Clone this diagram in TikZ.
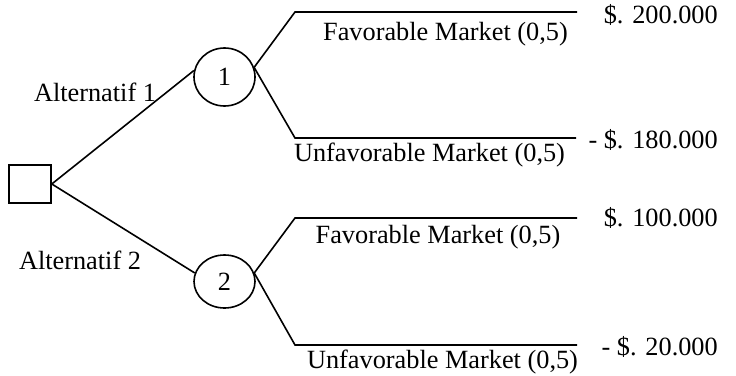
\documentclass[tikz,border=0pt]{standalone}
\usepackage{fontspec}
\setmainfont{Liberation Serif}
\usetikzlibrary{shapes.geometric}
\begin{document}
\begin{tikzpicture}[x=1pt,y=-1pt,
  every node/.style={font=\fontsize{26.3}{30}\selectfont},
  link/.style={line width=1.6pt},
  decbox/.style={draw, line width=1.6pt, minimum width=42pt, minimum height=38pt, inner sep=0pt},
  chance/.style={draw, ellipse, line width=1.6pt, minimum width=61pt, minimum height=58pt, inner sep=0pt},
  lbl/.style={inner sep=0pt}]
\useasboundingbox (0,0) rectangle (736,375);

% decision and chance nodes
\node[decbox] (dec) at (30,184) {};
\node[chance] (c1) at (224.5,77) {1};
\node[chance, minimum height=53pt] (c2) at (224.5,281.5) {2};

% branch corners and ends
\coordinate (c1f)  at (295,12);
\coordinate (c1fe) at (577,12);
\coordinate (c1u)  at (295,138);
\coordinate (c1ue) at (576,138);
\coordinate (c2f)  at (295,218);
\coordinate (c2fe) at (577,218);
\coordinate (c2u)  at (295,345);
\coordinate (c2ue) at (577,345);

% connectors
\draw[link] (dec.east) -- (c1.168);
\draw[link] (dec.east) -- (c2.164);
\draw[link] (c1.18) -- (c1f) -- (c1fe);
\draw[link] (c1.18) -- (c1u) -- (c1ue);
\draw[link] (c2.16) -- (c2f) -- (c2fe);
\draw[link] (c2.16) -- (c2u) -- (c2ue);

% branch labels
\node[lbl] (alt1) at (95,92.5) {Alternatif 1};
\node[lbl] (alt2) at (80,260) {Alternatif 2};
\node[lbl] (f1) at (445.5,34) {Favorable Market (0,5)};
\node[lbl] (u1) at (429.5,155) {Unfavorable Market (0,5)};
\node[lbl] (f2) at (438,237) {Favorable Market (0,5)};
\node[lbl] (u2) at (442.5,362) {Unfavorable Market (0,5)};

% payoffs
\node[lbl, anchor=east] (p1) at (718,15)  {\$. 200.000};
\node[lbl, anchor=east] (p2) at (718,140) {- \$. 180.000};
\node[lbl, anchor=east] (p3) at (718,218) {\$. 100.000};
\node[lbl, anchor=east] (p4) at (718,347) {- \$. 20.000};
\end{tikzpicture}
\end{document}
